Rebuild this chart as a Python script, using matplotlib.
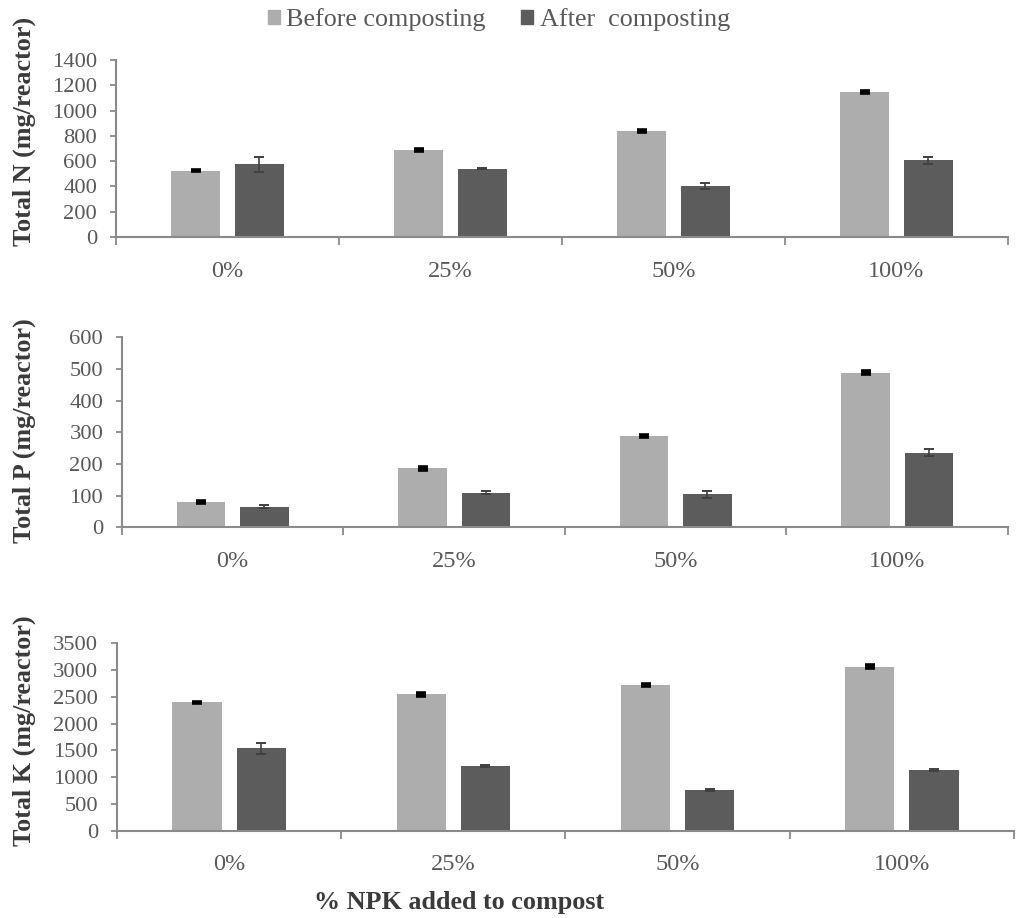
import matplotlib
matplotlib.use("Agg")
import matplotlib.pyplot as plt
from matplotlib.patches import Patch
import numpy as np

categories = ["0%", "25%", "50%", "100%"]
series_names = ["Before composting", "After  composting"]

n_before = [526, 688, 840, 1146]
n_before_err = [6, 8, 8, 8]
n_after = [574, 542, 402, 608]
n_after_err = [57, 6, 26, 28]

p_before = [79, 186, 288, 488]
p_before_err = [3, 4, 4, 4]
p_after = [65, 109, 104, 236]
p_after_err = [5, 5, 11, 12]

k_before = [2395, 2545, 2720, 3065]
k_before_err = [12, 25, 25, 25]
k_after = [1539, 1208, 754, 1128]
k_after_err = [100, 20, 18, 20]

ylabels = ["Total N (mg/reactor)", "Total P (mg/reactor)", "Total K (mg/reactor)"]
xlabel = "% NPK added to compost"

c_before = "#adadad"
c_after = "#5c5c5c"
axis_col = "#8a8a8a"
text_col = "#595959"
label_col = "#3a3a3a"

plt.rcParams["font.family"] = ["Liberation Serif", "DejaVu Serif"]

fig = plt.figure(figsize=(10.19, 9.18), dpi=100)

panels = [
    dict(rect=[0.1138, 0.7418, 0.8754, 0.1928], b=n_before, be=n_before_err, a=n_after, ae=n_after_err,
         ymax=1400, step=200, lab=ylabels[0], lab_y=1 - 131 / 918),
    dict(rect=[0.1197, 0.4256, 0.8695, 0.2070], b=p_before, be=p_before_err, a=p_after, ae=p_after_err,
         ymax=600, step=100, lab=ylabels[1], lab_y=1 - 431 / 918),
    dict(rect=[0.1148, 0.0951, 0.8803, 0.2041], b=k_before, be=k_before_err, a=k_after, ae=k_after_err,
         ymax=3500, step=500, lab=ylabels[2], lab_y=1 - 731 / 918),
]

width = 0.22
off = 0.143
x = np.arange(len(categories))

for i, p in enumerate(panels):
    ax = fig.add_axes(p["rect"])
    ax.bar(x - off, p["b"], width, color=c_before, zorder=2)
    ax.bar(x + off, p["a"], width, color=c_after, zorder=2)
    ax.errorbar(x - off, p["b"], yerr=p["be"], fmt="none", ecolor="black",
                elinewidth=2.5, capsize=3.5, capthick=2.6, zorder=3)
    ax.errorbar(x + off, p["a"], yerr=p["ae"], fmt="none", ecolor="#404040",
                elinewidth=1.2, capsize=3.5, capthick=1.4, zorder=3)
    ax.set_xlim(-0.5, len(categories) - 0.5)
    ax.set_ylim(0, p["ymax"])
    ax.set_yticks(np.arange(0, p["ymax"] + 1, p["step"]))
    ax.set_xticks(x)
    ax.set_xticklabels(categories)
    ax.set_xticks(np.arange(-0.5, len(categories), 1.0), minor=True)
    ax.tick_params(axis="x", which="major", length=0, pad=17, labelsize=17.5, labelcolor=text_col)
    ax.tick_params(axis="x", which="minor", length=6, width=1.3, color=axis_col, direction="out")
    ax.tick_params(axis="y", which="major", length=4.5, width=1.3, color=axis_col,
                   labelsize=16.2, labelcolor=text_col, pad=9)
    for s in ["top", "right"]:
        ax.spines[s].set_visible(False)
    for s in ["left", "bottom"]:
        ax.spines[s].set_color(axis_col)
        ax.spines[s].set_linewidth(1.5)
    fig.text(24 / 1019, p["lab_y"], p["lab"], rotation=90, ha="center", va="center",
             fontsize=18.8, fontweight="bold", color=label_col)

fig.text(459 / 1019, 1 - 903 / 918, xlabel, ha="center", va="center", fontsize=18.8,
         fontweight="bold", color=label_col)

handles = [Patch(color=c_before, label=series_names[0]), Patch(color=c_after, label=series_names[1])]
fig.legend(handles=handles, loc="center", bbox_to_anchor=(499 / 1019, 1 - 20 / 918), ncol=2, frameon=False,
           fontsize=18.8, labelcolor=text_col, handlelength=0.45, handleheight=0.45,
           handletextpad=0.25, columnspacing=1.35, borderpad=0, borderaxespad=0)

fig.savefig("out.png", dpi=100)
